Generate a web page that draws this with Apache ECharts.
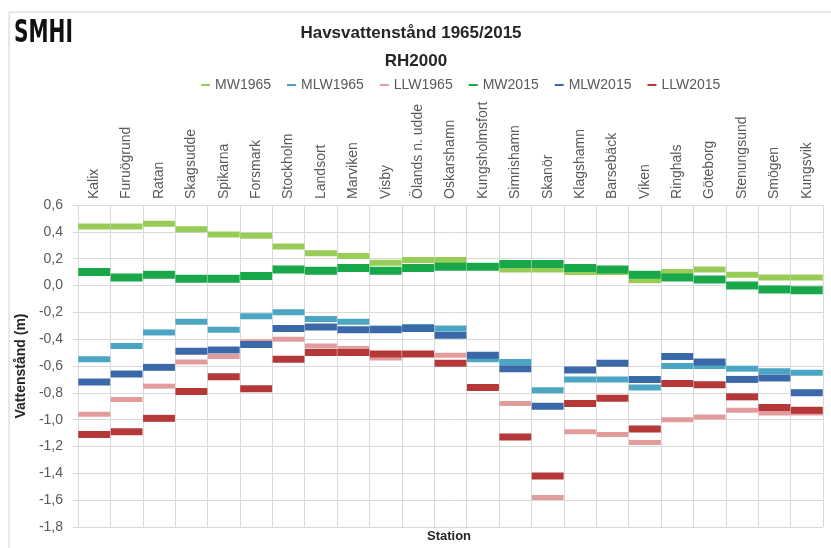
<!DOCTYPE html>
<html><head><meta charset="utf-8">
<script src="https://cdn.jsdelivr.net/npm/echarts@6/dist/echarts.min.js"></script>
<style>html,body{margin:0;padding:0;background:#fff}#c{width:831px;height:548px}</style>
</head><body><div id="c"></div>
<script>
const categories = ['Kalix','Furuögrund','Ratan','Skagsudde','Spikarna','Forsmark','Stockholm','Landsort','Marviken','Visby','Ölands n. udde','Oskarshamn','Kungsholmsfort','Simrishamn','Skanör','Klagshamn','Barsebäck','Viken','Ringhals','Göteborg','Stenungsund','Smögen','Kungsvik'];
const seriesNames = ['MW1965','MLW1965','LLW1965','MW2015','MLW2015','LLW2015'];
const mw1965  = [0.44,0.44,0.46,0.42,0.38,0.37,0.29,0.24,0.22,0.17,0.19,0.19,0.14,0.12,0.12,0.10,0.10,0.04,0.10,0.12,0.08,0.06,0.06];
const mlw1965 = [-0.55,-0.45,-0.35,-0.27,-0.33,-0.23,-0.20,-0.25,-0.27,-0.32,-0.31,-0.32,-0.55,-0.57,-0.78,-0.70,-0.70,-0.76,-0.60,-0.60,-0.62,-0.64,-0.65];
const llw1965 = [-0.96,-0.85,-0.75,-0.57,-0.53,-0.42,-0.40,-0.45,-0.47,-0.54,-0.51,-0.52,-0.76,-0.88,-1.58,-1.09,-1.11,-1.17,-1.00,-0.98,-0.93,-0.95,-0.95];
const mw2015  = [0.10,0.06,0.08,0.05,0.05,0.07,0.12,0.11,0.13,0.11,0.13,0.14,0.14,0.16,0.16,0.13,0.12,0.08,0.06,0.045,0.00,-0.03,-0.035];
const mlw2015 = [-0.72,-0.66,-0.61,-0.49,-0.48,-0.44,-0.32,-0.31,-0.33,-0.33,-0.32,-0.37,-0.52,-0.62,-0.90,-0.63,-0.58,-0.70,-0.53,-0.57,-0.70,-0.69,-0.80];
const llw2015 = [-1.11,-1.09,-0.99,-0.79,-0.68,-0.77,-0.55,-0.50,-0.50,-0.51,-0.51,-0.58,-0.76,-1.13,-1.42,-0.88,-0.84,-1.07,-0.73,-0.74,-0.83,-0.91,-0.93];
const yTicks = [0.6,0.4,0.2,0,-0.2,-0.4,-0.6,-0.8,-1.0,-1.2,-1.4,-1.6,-1.8];

const dataSets = [mw1965, mlw1965, llw1965, mw2015, mlw2015, llw2015];
const colors = ['#97cc57','#4ba6c3','#e39c9c','#18a84a','#3a68a8','#b53838'];
const thick = [6,6,5,8,7,7];

const chart = echarts.init(document.getElementById('c'), null, {renderer:'canvas'});
const gridLeft = 78, gridRight = 8;
const catW = (831 - gridLeft - gridRight) / categories.length;
const font = 'Liberation Sans, Arial, sans-serif';

chart.setOption({
  animation: false,
  backgroundColor: '#fff',
  textStyle: {fontFamily: font},
  title: [
    {text: 'Havsvattenstånd 1965/2015', left: 406, top: 20, textAlign: 'center',
     textStyle: {fontSize: 17, fontWeight: 'bold', color: '#262626', fontFamily: font}},
    {text: 'RH2000', left: 411, top: 48, textAlign: 'center',
     textStyle: {fontSize: 17, fontWeight: 'bold', color: '#262626', fontFamily: font}}
  ],
  legend: {
    data: seriesNames.map((n,i)=>({name:n, icon:'rect', itemStyle:{color:colors[i]}})),
    left: 196, top: 73, itemWidth: 9, itemHeight: 2, itemGap: 16,
    textStyle: {fontSize: 14, color: '#595959', fontFamily: font}
  },
  graphic: [
    {type:'rect', shape:{x:9, y:12, width:840, height:560}, style:{fill:'none', stroke:'#d0d0d0', lineWidth:1}, silent:true},
    {type:'text', left: 14, top: 18, scaleX: 0.63, style:{text:'SMHI', font:'bold 32px "DejaVu Sans", sans-serif', fill:'#111'}},
    {type:'text', left: 427, top: 530, style:{text:'Station', font:'bold 13px ' + font, fill:'#262626'}}
  ],
  grid: {left: gridLeft, right: gridRight, top: 205, bottom: 21},
  xAxis: {
    type: 'category', data: categories, position: 'top',
    boundaryGap: true,
    axisLine: {show: false},
    axisTick: {show: false},
    splitLine: {show: true, interval: 0, lineStyle: {color: '#d9d9d9', width: 1}},
    axisLabel: {interval: 0, rotate: 90, fontSize: 14, color: '#595959', margin: 6, fontFamily: font}
  },
  yAxis: {
    type: 'value', min: -1.8, max: 0.6, interval: 0.2,
    name: 'Vattenstånd (m)', nameLocation: 'middle', nameGap: 50,
    nameTextStyle: {fontSize: 14, fontWeight: 'bold', color: '#262626', fontFamily: font},
    axisLine: {show: false},
    axisTick: {show: true, length: 5, lineStyle: {color: '#d9d9d9'}},
    splitLine: {show: true, lineStyle: {color: '#d9d9d9', width: 1}},
    axisLabel: {fontSize: 14, color: '#595959', margin: 15, fontFamily: font,
      formatter: v => (Math.round(v*10)/10).toFixed(1).replace('.', ',')}
  },
  series: seriesNames.map((n,i)=>({
    name: n, type: 'scatter', data: dataSets[i],
    symbol: 'rect', symbolSize: [catW - 0.5, thick[i]],
    itemStyle: {color: colors[i], opacity: 1},
    z: 2 + i
  }))
});
</script>
</body></html>
